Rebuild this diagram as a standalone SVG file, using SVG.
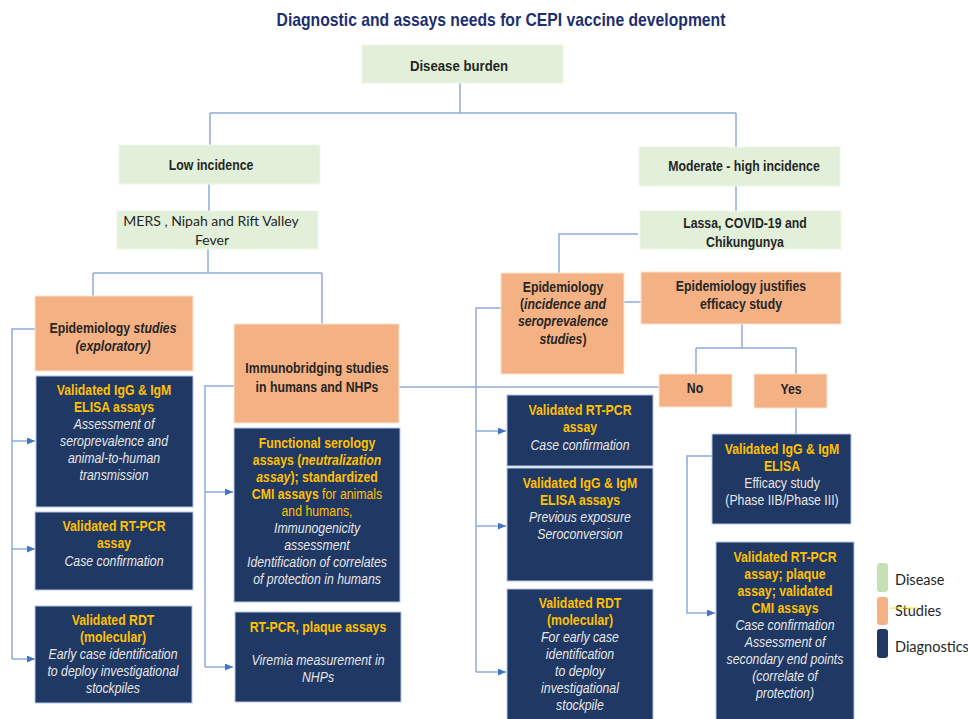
<svg xmlns="http://www.w3.org/2000/svg" width="968" height="719" viewBox="0 0 968 719">
<style>
.t{font-family:"Liberation Sans",Arial,sans-serif;text-anchor:middle}
.ttl{font-size:18.5px;font-weight:bold;fill:#1d2f6f}
.d{font-size:15px;font-weight:bold;fill:#262626}
.y{font-size:15px;font-weight:bold;fill:#FFC000}
.w{font-size:15px;font-style:italic;fill:#e7e6e6}
.wn{font-size:15px;fill:#e7e6e6}
.yn{font-weight:normal}
.i{font-style:italic}
.n{font-style:normal}
.lato{font-family:Lato,"Open Sans",sans-serif;fill:#262626}
.g{fill:#E2F0D9;stroke:#eef6e9;stroke-width:1}
.o{fill:#F4B183;stroke:#fbe3d2;stroke-width:1}
.b{fill:#203864;stroke:#b4c7e7;stroke-width:1}
.c{fill:none;stroke:#8eaadb;stroke-width:1.5}
</style>
<defs>
<marker id="arr" markerWidth="9" markerHeight="8" refX="8" refY="3.5" orient="auto" markerUnits="userSpaceOnUse">
<path d="M0,0 L8,3.5 L0,7 z" fill="#4472C4"/>
</marker>
</defs>
<rect width="968" height="719" fill="#ffffff"/>
<g transform="translate(501,0) scale(0.85,1)"><text class="t ttl" x="0" y="26">Diagnostic and assays needs for CEPI vaccine development</text></g>

<g id="connectors">
<path class="c" d="M460,83 V113 M210,113 H736 M210,113 V145 M736,113 V147"/>
<path class="c" d="M209,184 V211 M736,186 V211"/>
<path class="c" d="M208,249 V273 M93,273 H322 M93,273 V296 M322,273 V324"/>
<path class="c" d="M638,234 H559 V273"/>
<path class="c" d="M624,302 H641"/>
<path class="c" d="M742,324 V348 M696,348 H796 M696,348 V374 M796,348 V374"/>
<path class="c" d="M796,408 V434"/>
<path class="c" d="M399,387 H659"/>
<path class="c" d="M35,329 H12 V659"/>
<path class="c" d="M12,441 H35" marker-end="url(#arr)"/>
<path class="c" d="M12,549 H35" marker-end="url(#arr)"/>
<path class="c" d="M12,659 H35" marker-end="url(#arr)"/>
<path class="c" d="M234,386 H205 V667"/>
<path class="c" d="M205,492 H233" marker-end="url(#arr)"/>
<path class="c" d="M205,667 H233" marker-end="url(#arr)"/>
<path class="c" d="M501,308 H476 V672"/>
<path class="c" d="M476,431 H506" marker-end="url(#arr)"/>
<path class="c" d="M476,526 H506" marker-end="url(#arr)"/>
<path class="c" d="M476,672 H506" marker-end="url(#arr)"/>
<path class="c" d="M712,456 H687 V613 H715" marker-end="url(#arr)"/>
</g>

<g id="disease-burden"><rect class="g" x="362" y="45" width="201" height="38"/>
<g transform="translate(459,0) scale(0.88,1)"><text class="t d" x="0" y="71">Disease burden</text></g></g>

<g id="low-incidence"><rect class="g" x="119" y="145" width="201" height="39"/>
<g transform="translate(211,0) scale(0.82,1)"><text class="t d" x="0" y="170">Low incidence</text></g></g>

<g id="mers"><rect class="g" x="117" y="211" width="201" height="38"/>
<text class="t lato" x="211" y="226" font-size="14">MERS , Nipah and Rift Valley</text>
<text class="t lato" x="212" y="245" font-size="14">Fever</text></g>

<g id="moderate-incidence"><rect class="g" x="639" y="147" width="201" height="39"/>
<g transform="translate(744,0) scale(0.82,1)"><text class="t d" x="0" y="171">Moderate - high incidence</text></g></g>

<g id="lassa"><rect class="g" x="640" y="211" width="201" height="38"/>
<g transform="translate(745,0) scale(0.82,1)"><text class="t d" x="0" y="228">Lassa, COVID-19 and</text><text class="t d" x="0" y="247">Chikungunya</text></g></g>

<g id="epi-studies"><rect class="o" x="35" y="296" width="158" height="75"/>
<g transform="translate(113,0) scale(0.82,1)"><text class="t d" x="0" y="333">Epidemiology <tspan class="i">studies</tspan></text><text class="t d i" x="0" y="351">(exploratory)</text></g></g>

<g id="immunobridging"><rect class="o" x="234" y="324" width="165" height="99"/>
<g transform="translate(317,0) scale(0.82,1)"><text class="t d" x="0" y="373">Immunobridging studies</text><text class="t d" x="0" y="392">in humans and NHPs</text></g></g>

<g id="epi-incidence"><rect class="o" x="501" y="273" width="123" height="101"/>
<g transform="translate(563,0) scale(0.82,1)"><text class="t d" x="0" y="292">Epidemiology</text><text class="t d" x="0" y="309">(<tspan class="i">incidence and</tspan></text><text class="t d i" x="0" y="326">seroprevalence</text><text class="t d" x="0" y="344"><tspan class="i">studies</tspan>)</text></g></g>

<g id="epi-justifies"><rect class="o" x="641" y="272" width="200" height="52"/>
<g transform="translate(741,0) scale(0.82,1)"><text class="t d" x="0" y="291">Epidemiology justifies</text><text class="t d" x="0" y="309">efficacy study</text></g></g>

<g id="no"><rect class="o" x="659" y="374" width="73" height="33"/>
<g transform="translate(695,0) scale(0.82,1)"><text class="t d" x="0" y="393">No</text></g></g>

<g id="yes"><rect class="o" x="754" y="374" width="73" height="34"/>
<g transform="translate(791,0) scale(0.82,1)"><text class="t d" x="0" y="394">Yes</text></g></g>

<g id="left-elisa"><rect class="b" x="36" y="376" width="157" height="131"/>
<g transform="translate(114,0) scale(0.82,1)"><text class="t y" x="0" y="395">Validated IgG &amp; IgM</text><text class="t y" x="0" y="412">ELISA assays</text><text class="t w" x="0" y="429">Assessment of</text><text class="t w" x="0" y="446">seroprevalence and</text><text class="t w" x="0" y="463">animal-to-human</text><text class="t w" x="0" y="480">transmission</text></g></g>

<g id="left-rtpcr"><rect class="b" x="35" y="512" width="158" height="78"/>
<g transform="translate(114,0) scale(0.82,1)"><text class="t y" x="0" y="531">Validated RT-PCR</text><text class="t y" x="0" y="548">assay</text><text class="t w" x="0" y="566">Case confirmation</text></g></g>

<g id="left-rdt"><rect class="b" x="35" y="606" width="157" height="97"/>
<g transform="translate(113,0) scale(0.82,1)"><text class="t y" x="0" y="625">Validated RDT</text><text class="t y" x="0" y="642">(molecular)</text><text class="t w" x="0" y="659">Early case identification</text><text class="t w" x="0" y="676">to deploy investigational</text><text class="t w" x="0" y="693">stockpiles</text></g></g>

<g id="functional-serology"><rect class="b" x="234" y="428" width="166" height="174"/>
<g transform="translate(317,0) scale(0.82,1)"><text class="t y" x="0" y="448">Functional serology</text><text class="t y" x="0" y="465">assays (<tspan class="i">neutralization</tspan></text><text class="t y" x="0" y="482"><tspan class="i">assay</tspan>); standardized</text><text class="t y" x="0" y="499">CMI assays<tspan class="yn"> for animals</tspan></text><text class="t y yn" x="0" y="516">and humans,</text><text class="t w" x="0" y="533">Immunogenicity</text><text class="t w" x="0" y="550">assessment</text><text class="t w" x="0" y="567">Identification of correlates</text><text class="t w" x="0" y="584">of protection in humans</text></g></g>

<g id="rtpcr-plaque"><rect class="b" x="235" y="612" width="166" height="90"/>
<g transform="translate(318,0) scale(0.82,1)"><text class="t y" x="0" y="632">RT-PCR, plaque assays</text><text class="t w" x="0" y="665">Viremia measurement in</text><text class="t w" x="0" y="682">NHPs</text></g></g>

<g id="mid-rtpcr"><rect class="b" x="507" y="395" width="146" height="71"/>
<g transform="translate(580,0) scale(0.82,1)"><text class="t y" x="0" y="415">Validated RT-PCR</text><text class="t y" x="0" y="432">assay</text><text class="t w" x="0" y="450">Case confirmation</text></g></g>

<g id="mid-elisa"><rect class="b" x="507" y="468" width="146" height="113"/>
<g transform="translate(580,0) scale(0.82,1)"><text class="t y" x="0" y="488">Validated IgG &amp; IgM</text><text class="t y" x="0" y="505">ELISA assays</text><text class="t w" x="0" y="522">Previous exposure</text><text class="t w" x="0" y="539">Seroconversion</text></g></g>

<g id="mid-rdt"><rect class="b" x="507" y="589" width="146" height="136"/>
<g transform="translate(580,0) scale(0.82,1)"><text class="t y" x="0" y="608">Validated RDT</text><text class="t y" x="0" y="625">(molecular)</text><text class="t w" x="0" y="642">For early case</text><text class="t w" x="0" y="659">identification</text><text class="t w" x="0" y="676">to deploy</text><text class="t w" x="0" y="693">investigational</text><text class="t w" x="0" y="710">stockpile</text></g></g>

<g id="right-elisa"><rect class="b" x="712" y="434" width="139" height="90"/>
<g transform="translate(782,0) scale(0.82,1)"><text class="t y" x="0" y="454">Validated IgG &amp; IgM</text><text class="t y" x="0" y="471">ELISA</text><text class="t wn" x="0" y="488">Efficacy study</text><text class="t wn" x="0" y="505">(Phase IIB/Phase III)</text></g></g>

<g id="right-rtpcr"><rect class="b" x="716" y="542" width="138" height="183"/>
<g transform="translate(785,0) scale(0.82,1)"><text class="t y" x="0" y="562">Validated RT-PCR</text><text class="t y" x="0" y="579">assay; plaque</text><text class="t y" x="0" y="596">assay; validated</text><text class="t y" x="0" y="613">CMI assays</text><text class="t w" x="0" y="630">Case confirmation</text><text class="t w" x="0" y="647">Assessment of</text><text class="t w" x="0" y="664">secondary end points</text><text class="t w" x="0" y="681">(correlate of</text><text class="t w" x="0" y="698">protection)</text></g></g>

<g id="legend">
<rect x="877" y="563" width="11" height="29" rx="3" fill="#C5E0B4"/>
<rect x="877" y="597" width="11" height="28" rx="3" fill="#F4B183"/>
<rect x="877" y="629" width="11" height="29" rx="3" fill="#203864"/>
<text class="lato" x="895" y="585" font-size="14.5">Disease</text>
<text class="lato" x="895" y="616" font-size="14.5">Studies</text>
<text class="lato" x="895" y="652" font-size="14.5">Diagnostics</text>
<path d="M890,608 H918" stroke="#f5e400" stroke-width="1"/>
</g>
</svg>
